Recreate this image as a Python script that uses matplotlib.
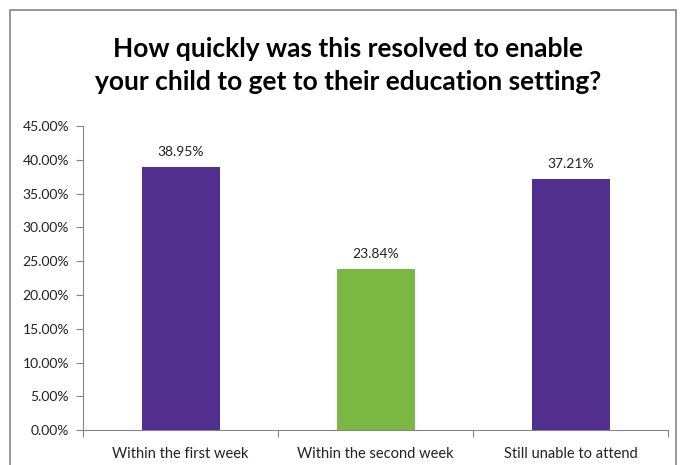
import matplotlib.pyplot as plt
from matplotlib.patches import Rectangle
from matplotlib.ticker import FuncFormatter, MultipleLocator

categories = ["Within the first week", "Within the second week", "Still unable to attend"]
values = [38.95, 23.84, 37.21]
colors = ["#522F8F", "#7AB743", "#522F8F"]
title = "How quickly was this resolved to enable\nyour child to get to their education setting?"

plt.rcParams["font.family"] = ["Lato", "DejaVu Sans"]

fig = plt.figure(figsize=(6.86, 4.65), dpi=100)
ax = fig.add_axes([0.121, 0.075, 0.853, 0.654])

x = range(len(categories))
ax.bar(x, values, width=0.4, color=colors)
for xi, v in zip(x, values):
    ax.text(xi, v + 1.3, f"{v:.2f}%", ha="center", va="bottom", fontsize=10, color="#222222")

ax.set_xlim(-0.5, 2.5)
ax.set_ylim(0, 45)
ax.yaxis.set_major_locator(MultipleLocator(5))
ax.yaxis.set_major_formatter(FuncFormatter(lambda v, p: f"{v:.2f}%"))
ax.set_xticks([-0.5, 0.5, 1.5, 2.5], minor=False)
ax.set_xticklabels([])
ax.set_xticks(list(x), minor=True)
ax.set_xticklabels(categories, minor=True, fontsize=10.5, color="#222222")
ax.tick_params(axis="x", which="minor", length=0, pad=12)
ax.tick_params(axis="x", which="major", length=5, color="#868686", direction="out")
ax.tick_params(axis="y", length=5, color="#868686", labelsize=10, labelcolor="#222222", pad=5)

for s in ["top", "right"]:
    ax.spines[s].set_visible(False)
for s in ["left", "bottom"]:
    ax.spines[s].set_color("#868686")

fig.text(0.508, 0.86, title, ha="center", va="center", fontsize=19,
         fontweight="bold", linespacing=1.45)

fig.patches.append(Rectangle((10 / 686, -0.05), 666 / 686, 1.05 - 10 / 465,
                             transform=fig.transFigure, fill=False,
                             edgecolor="#868686", linewidth=1.2))

fig.savefig("out.png", dpi=100)
